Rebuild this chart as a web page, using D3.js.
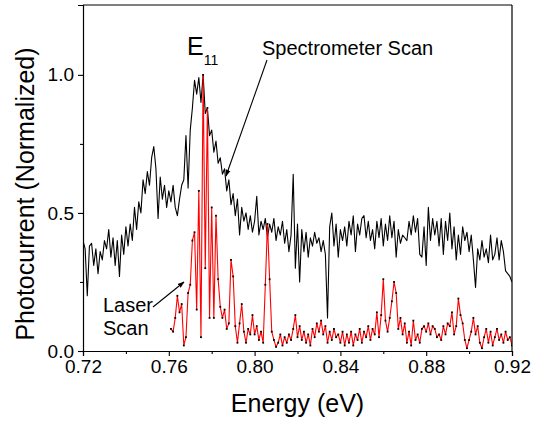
<!DOCTYPE html>
<html>
<head>
<meta charset="utf-8">
<script src="https://cdn.jsdelivr.net/npm/d3@7"></script>
<style>
  html, body { margin: 0; padding: 0; background: #fff; }
  svg { display: block; font-family: "Liberation Sans", Arial, sans-serif; }
</style>
</head>
<body>
<div id="chart"></div>
<script>
// Spectrometer scan (black), sampled every 1 meV from 0.720 eV
const specStart = 0.720;
const specStep = 0.001;
const specValues = [
  0.40, 0.37, 0.20, 0.38, 0.39, 0.31, 0.37, 0.28, 0.36, 0.33,
  0.40, 0.37, 0.44, 0.34, 0.41, 0.31, 0.40, 0.27, 0.42, 0.35,
  0.45, 0.38, 0.46, 0.40, 0.52, 0.44, 0.54, 0.50, 0.62, 0.57,
  0.65, 0.60, 0.70, 0.74, 0.66, 0.48, 0.63, 0.55, 0.60, 0.52,
  0.58, 0.54, 0.60, 0.52, 0.49, 0.55, 0.60, 0.62, 0.78, 0.59,
  0.80, 0.88, 0.98, 0.93, 0.99, 0.90, 1.00, 0.86, 0.88, 0.78,
  0.80, 0.72, 0.76, 0.68, 0.70, 0.64, 0.66, 0.58, 0.62, 0.53,
  0.57, 0.49, 0.55, 0.42, 0.52, 0.47, 0.50, 0.44, 0.49, 0.43,
  0.47, 0.56, 0.42, 0.47, 0.44, 0.48, 0.41, 0.46, 0.43, 0.48,
  0.40, 0.45, 0.42, 0.47, 0.39, 0.44, 0.36, 0.42, 0.64, 0.30,
  0.46, 0.25, 0.44, 0.36, 0.43, 0.34, 0.41, 0.38, 0.43, 0.39,
  0.41, 0.36, 0.40, 0.35, 0.12, 0.45, 0.50, 0.38, 0.46, 0.34,
  0.44, 0.40, 0.45, 0.38, 0.47, 0.42, 0.49, 0.36, 0.46, 0.42,
  0.48, 0.49, 0.41, 0.47, 0.40, 0.44, 0.37, 0.47, 0.41, 0.48,
  0.38, 0.46, 0.40, 0.49, 0.41, 0.47, 0.34, 0.44, 0.39, 0.42,
  0.41, 0.40, 0.47, 0.42, 0.49, 0.43, 0.48, 0.35, 0.34, 0.45,
  0.31, 0.52, 0.40, 0.48, 0.42, 0.47, 0.38, 0.48, 0.35, 0.47,
  0.40, 0.50, 0.37, 0.45, 0.33, 0.42, 0.35, 0.45, 0.40, 0.43,
  0.36, 0.42, 0.33, 0.23, 0.37, 0.33, 0.40, 0.34, 0.37, 0.32,
  0.42, 0.33, 0.35, 0.41, 0.33, 0.40, 0.36, 0.29, 0.28, 0.27,
  0.25
];

// Laser scan (red with dots), sampled every 1 meV from 0.761 eV
const laserStart = 0.761;
const laserStep = 0.001;
const laserValues = [
  0.08, 0.07, 0.12, 0.20, 0.14, 0.17, 0.02, 0.05, 0.21, 0.24,
  0.40, 0.43, 0.15, 0.58, 0.05, 1.00, 0.30, 0.88, 0.12, 0.52,
  0.12, 0.49, 0.26, 0.16, 0.12, 0.15, 0.08, 0.10, 0.33, 0.27,
  0.09, 0.03, 0.10, 0.17, 0.07, 0.03, 0.08, 0.06, 0.13, 0.06,
  0.09, 0.04, 0.07, 0.03, 0.24, 0.46, 0.26, 0.07, 0.04, 0.015,
  0.03, 0.06, 0.02, 0.05, 0.03, 0.06, 0.04, 0.08, 0.13, 0.05,
  0.09, 0.04, 0.07, 0.03, 0.06, 0.02, 0.08, 0.05, 0.10, 0.07,
  0.11, 0.06, 0.09, 0.03, 0.07, 0.04, 0.08, 0.05, 0.06, 0.03,
  0.07, 0.02, 0.06, 0.03, 0.07, 0.02, 0.06, 0.04, 0.08, 0.03,
  0.07, 0.05, 0.09, 0.04, 0.08, 0.06, 0.14, 0.05, 0.13, 0.26,
  0.11, 0.07, 0.12, 0.18, 0.25, 0.21, 0.08, 0.12, 0.06, 0.10,
  0.03, 0.07, 0.02, 0.11, 0.04, 0.06, 0.03, 0.08, 0.09, 0.07,
  0.10, 0.06, 0.09, 0.08, 0.05, 0.06, 0.04, 0.09, 0.06, 0.10,
  0.09, 0.14, 0.06, 0.09, 0.19, 0.13, 0.10, 0.04, 0.01, 0.04,
  0.07, 0.12, 0.06, 0.09, 0.03, 0.01, 0.05, 0.08, 0.03, 0.07,
  0.02, 0.05, 0.08, 0.04, 0.06, 0.03, 0.07, 0.04, 0.05, 0.02
];

const xMajorTicks = [0.72, 0.76, 0.80, 0.84, 0.88, 0.92];
const xMinorTicks = [0.74, 0.78, 0.82, 0.86, 0.90];
const yMajorTicks = [0.0, 0.5, 1.0];
const yMinorTicks = [0.25, 0.75];

const W = 534, H = 426;
const margin = { top: 5, right: 22, bottom: 75, left: 83 };
const width = W - margin.left - margin.right;
const height = H - margin.top - margin.bottom;

const specData = specValues.map((v, i) => ({ e: specStart + i * specStep, v }));
const laserData = laserValues.map((v, i) => ({ e: laserStart + i * laserStep, v }));

const svg = d3.select('#chart').append('svg')
    .attr('width', W)
    .attr('height', H);

const defs = svg.append('defs');
defs.append('marker')
    .attr('id', 'arrow')
    .attr('viewBox', '0 0 10 10')
    .attr('refX', 9)
    .attr('refY', 5)
    .attr('markerWidth', 7)
    .attr('markerHeight', 7)
    .attr('markerUnits', 'userSpaceOnUse')
    .attr('orient', 'auto')
    .append('path')
    .attr('d', 'M0,1.5 L10,5 L0,8.5 Z')
    .attr('fill', '#000');
defs.append('clipPath').attr('id', 'plot-clip')
    .append('rect').attr('width', width).attr('height', height);

const g = svg.append('g')
    .attr('transform', `translate(${margin.left},${margin.top})`);

const x = d3.scaleLinear().domain([0.72, 0.92]).range([0, width]);
const y = d3.scaleLinear().domain([0, 1.253]).range([height, 0]);

// Curves
const line = d3.line().x(d => x(d.e)).y(d => y(d.v));
const plot = g.append('g').attr('clip-path', 'url(#plot-clip)');

plot.append('path')
    .datum(specData)
    .attr('fill', 'none')
    .attr('stroke', '#000')
    .attr('stroke-width', 1.1)
    .attr('stroke-linejoin', 'round')
    .attr('d', line);

plot.append('path')
    .datum(laserData)
    .attr('fill', 'none')
    .attr('stroke', '#ff0000')
    .attr('stroke-width', 1.1)
    .attr('stroke-linejoin', 'round')
    .attr('d', line);

plot.selectAll('.dot')
    .data(laserData)
    .enter()
    .append('rect')
    .attr('class', 'dot')
    .attr('x', d => x(d.e) - 0.9)
    .attr('y', d => y(d.v) - 0.9)
    .attr('width', 1.8)
    .attr('height', 1.8)
    .attr('fill', '#000');

// Axes
const xAxis = g.append('g')
    .attr('transform', `translate(0,${height})`)
    .call(d3.axisBottom(x).tickValues(xMajorTicks).tickSize(5).tickPadding(4)
        .tickFormat(d3.format('.2f')));
g.append('g')
    .attr('transform', `translate(0,${height})`)
    .call(d3.axisBottom(x).tickValues(xMinorTicks).tickSize(3).tickFormat(''))
    .select('.domain').remove();

const yAxis = g.append('g')
    .call(d3.axisLeft(y).tickValues(yMajorTicks).tickSize(5).tickPadding(4)
        .tickFormat(d3.format('.1f')));
g.append('g')
    .call(d3.axisLeft(y).tickValues(yMinorTicks).tickSize(3).tickFormat(''))
    .select('.domain').remove();

g.selectAll('.tick line').attr('stroke', '#000').attr('stroke-width', 1.1);
g.selectAll('.domain').attr('stroke', '#000').attr('stroke-width', 1.2);
g.selectAll('.tick text')
    .attr('fill', '#000')
    .style('font-size', '19px')
    .style('font-family', '"Liberation Sans", Arial, sans-serif');

// frame top/right
g.append('line').attr('x1', 0).attr('x2', width).attr('y1', 0).attr('y2', 0)
    .attr('stroke', '#000').attr('stroke-width', 1.2);
g.append('line').attr('x1', width).attr('x2', width).attr('y1', 0).attr('y2', height)
    .attr('stroke', '#000').attr('stroke-width', 1.2);

// Axis titles
svg.append('text')
    .attr('x', margin.left + width / 2)
    .attr('y', 412)
    .attr('text-anchor', 'middle')
    .style('font-size', '25px')
    .text('Energy (eV)');

svg.append('text')
    .attr('transform', 'translate(34,194) rotate(-90)')
    .attr('text-anchor', 'middle')
    .style('font-size', '25px')
    .text('Photocurrent (Normalized)');

// Annotations
const e11 = svg.append('text')
    .attr('x', 187)
    .attr('y', 55)
    .style('font-size', '25px');
e11.append('tspan').text('E');
e11.append('tspan').attr('dy', 10).style('font-size', '14px').text('11');

svg.append('text')
    .attr('x', 262)
    .attr('y', 55)
    .style('font-size', '20px')
    .text('Spectrometer Scan');

svg.append('text')
    .attr('x', 103)
    .attr('y', 312)
    .style('font-size', '20px')
    .text('Laser');
svg.append('text')
    .attr('x', 103)
    .attr('y', 335)
    .style('font-size', '20px')
    .text('Scan');

svg.append('line')
    .attr('x1', 267).attr('y1', 60)
    .attr('x2', 226).attr('y2', 176)
    .attr('stroke', '#000').attr('stroke-width', 1.1)
    .attr('marker-end', 'url(#arrow)');

svg.append('line')
    .attr('x1', 153).attr('y1', 307)
    .attr('x2', 184).attr('y2', 282)
    .attr('stroke', '#000').attr('stroke-width', 1.1)
    .attr('marker-end', 'url(#arrow)');
</script>
</body>
</html>
